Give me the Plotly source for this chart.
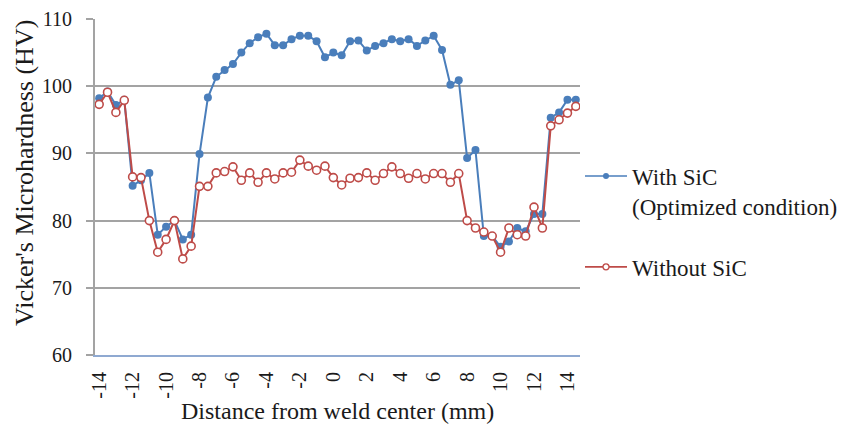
import plotly.graph_objects as go

distance_mm = [-14 + 0.5 * i for i in range(58)]

with_sic = [98.2, 99.2, 97.2, 98.0, 85.2, 86.0, 87.1, 77.9, 79.1, 80.0,
            77.2, 77.9, 89.9, 98.3, 101.4, 102.4, 103.3, 105.0, 106.4, 107.3,
            107.8, 106.1, 106.1, 107.0, 107.5, 107.5, 106.7, 104.3, 105.0, 104.6,
            106.7, 106.8, 105.3, 106.0, 106.4, 107.0, 106.7, 107.0, 106.0, 106.8,
            107.5, 105.4, 100.2, 100.9, 89.3, 90.5, 77.7, 77.7, 76.1, 76.9,
            78.9, 78.4, 81.0, 81.0, 95.3, 96.1, 98.0, 98.0]

without_sic = [97.3, 99.1, 96.1, 97.9, 86.5, 86.4, 80.0, 75.3, 77.2, 80.0,
               74.3, 76.2, 85.1, 85.1, 87.1, 87.3, 88.0, 86.0, 87.1, 85.7,
               87.1, 86.2, 87.1, 87.2, 89.0, 88.1, 87.5, 88.1, 86.4, 85.3,
               86.3, 86.4, 87.1, 86.0, 87.0, 88.0, 87.0, 86.3, 87.0, 86.2,
               87.0, 87.0, 85.7, 87.0, 80.0, 78.9, 78.3, 77.7, 75.3, 78.9,
               77.9, 77.7, 82.0, 78.9, 94.1, 95.0, 96.0, 97.0]

series_names = ["With SiC<br>(Optimized condition)", "Without SiC"]
x_ticks = list(range(-14, 15, 2))
y_ticks = [60, 70, 80, 90, 100, 110]

BLUE = "#4a7ebb"
RED = "#be4b48"
FONT = "'Liberation Serif', 'Times New Roman', Times, 'DejaVu Serif', serif"
TXT = "#1a1a1a"

fig = go.Figure()
fig.add_trace(go.Scatter(
    x=distance_mm, y=with_sic, mode="lines+markers",
    name=series_names[0], showlegend=False,
    line=dict(color=BLUE, width=2),
    marker=dict(symbol="circle", size=8, color=BLUE),
))
fig.add_trace(go.Scatter(
    x=distance_mm, y=without_sic, mode="lines+markers",
    name=series_names[1], showlegend=False,
    line=dict(color=RED, width=2),
    marker=dict(symbol="circle", size=8, color="white", line=dict(color=RED, width=1.6)),
))
# legend-only entries (smaller markers, like the original legend)
fig.add_trace(go.Scatter(
    x=[None], y=[None], mode="lines+markers", name=series_names[0],
    line=dict(color=BLUE, width=1.6),
    marker=dict(symbol="circle", size=6, color=BLUE),
    legendgroup="a",
))
fig.add_trace(go.Scatter(
    x=[None], y=[None], mode="lines+markers", name=series_names[1],
    line=dict(color=RED, width=1.6),
    marker=dict(symbol="circle", size=6, color="white", line=dict(color=RED, width=1.3)),
    legendgroup="b",
))

fig.update_layout(
    width=861, height=431,
    margin=dict(l=95, r=281, t=19, b=75.5),
    paper_bgcolor="white", plot_bgcolor="white",
    font=dict(family=FONT, color=TXT, size=20),
    showlegend=True,
    legend=dict(
        x=1.0, xanchor="left", y=0.397, yanchor="middle",
        xref="paper", yref="paper",
        font=dict(family=FONT, size=23, color=TXT),
        valign="top", tracegroupgap=28, itemwidth=42,
        bgcolor="rgba(0,0,0,0)",
    ),
    xaxis=dict(
        range=[-14.25, 14.75], tickmode="array", tickvals=x_ticks,
        ticktext=[str(v) for v in x_ticks], tickangle=-90,
        showgrid=False, zeroline=False, automargin=False,
        showline=True, linecolor="#8fa9d1", linewidth=2,
        ticks="", ticklabelstandoff=7,
        tickfont=dict(family=FONT, size=20),
    ),
    yaxis=dict(
        range=[60, 110], tickmode="array", tickvals=y_ticks,
        showgrid=True, gridcolor="#a3a3a3", gridwidth=2, automargin=False,
        zeroline=False, showline=True, linecolor="#a3a3a3", linewidth=2,
        ticks="outside", ticklen=7, tickcolor="#a3a3a3", tickwidth=2,
        ticklabelstandoff=10,
        tickfont=dict(family=FONT, size=20),
    ),
    annotations=[
        dict(text="Distance from weld center (mm)", xref="paper", yref="paper",
             x=0.5, y=-0.168, xanchor="center", yanchor="middle", showarrow=False,
             font=dict(family=FONT, size=24, color=TXT)),
        dict(text="Vicker's Microhardness (HV)", xref="paper", yref="paper",
             x=-0.144, y=0.542, xanchor="center", yanchor="middle", showarrow=False,
             textangle=-90, font=dict(family=FONT, size=26, color=TXT)),
    ],
)

fig.write_html("out.html")
